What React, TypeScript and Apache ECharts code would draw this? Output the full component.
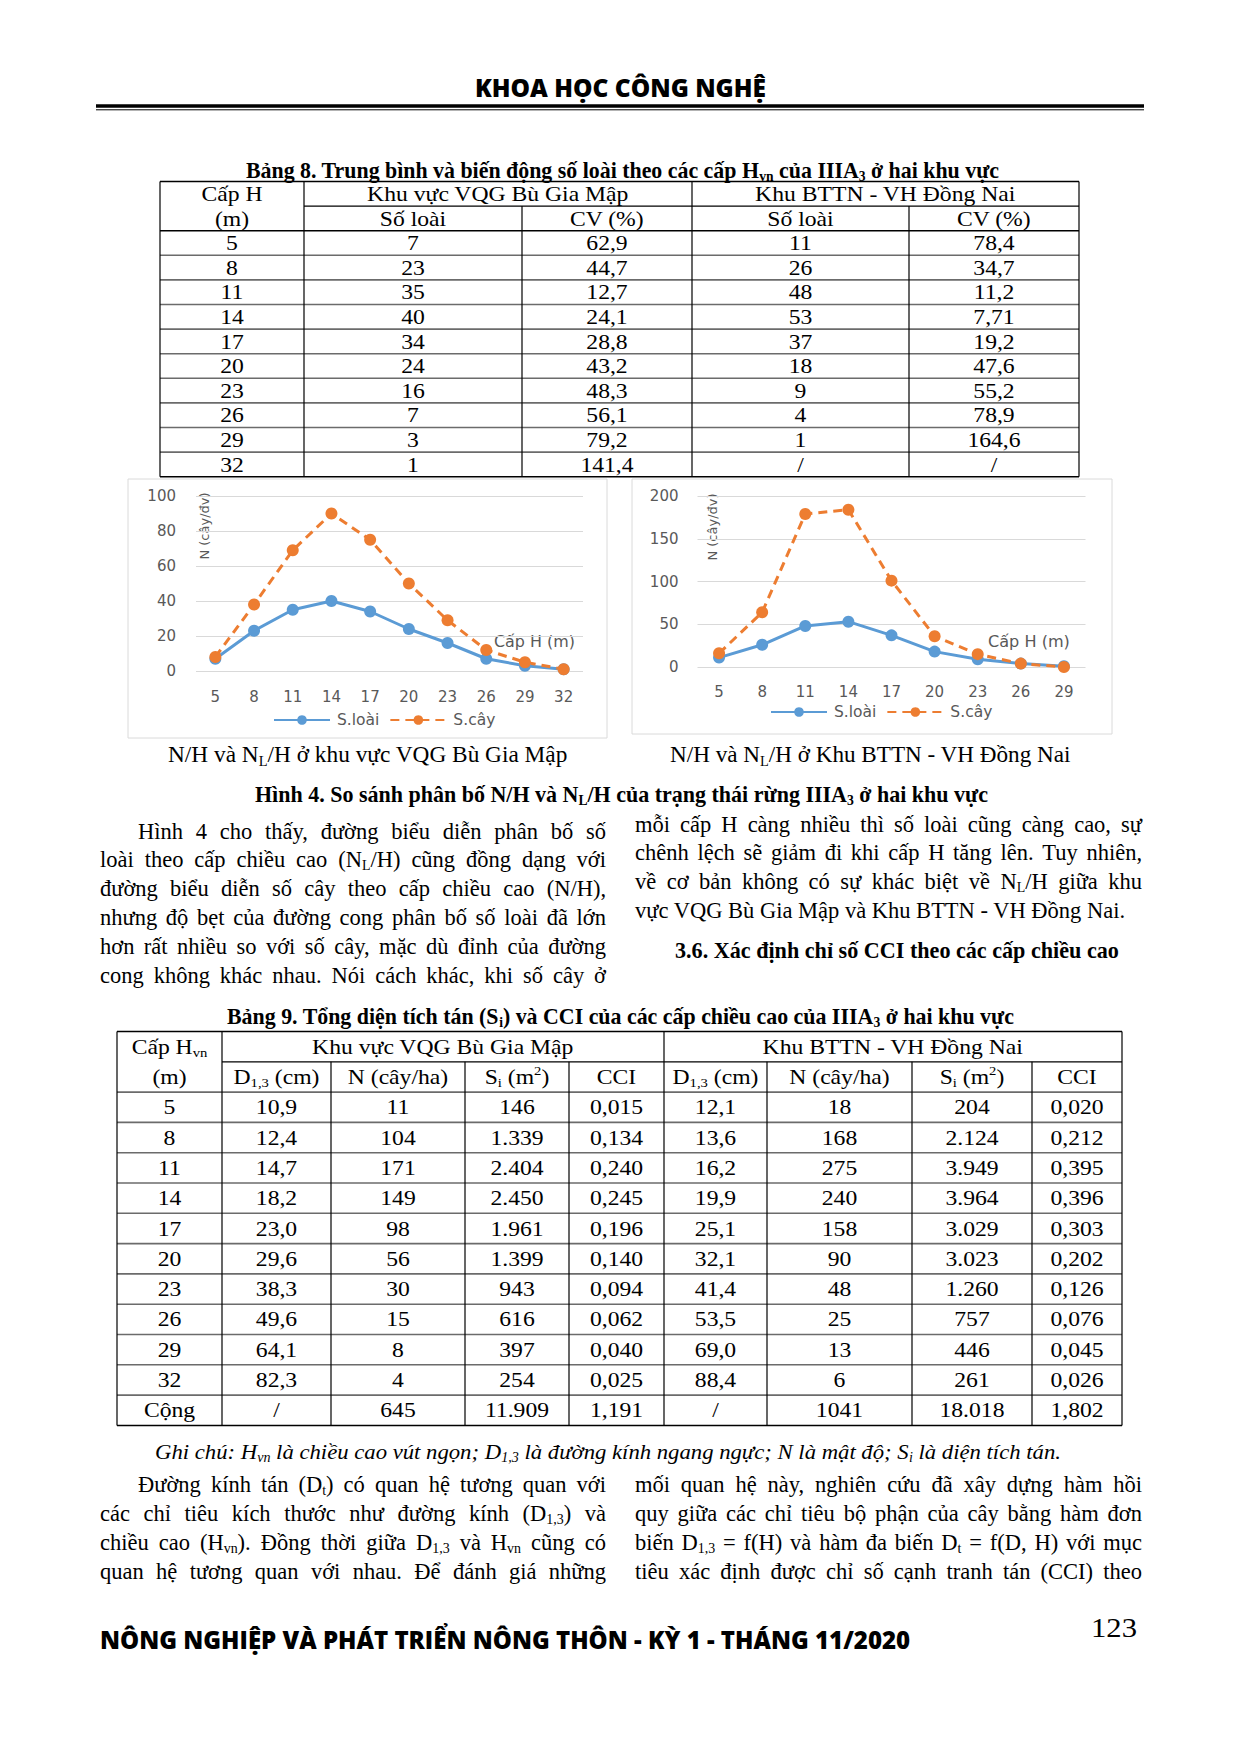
import React, { useEffect, useRef } from 'react';
import * as echarts from 'echarts';

// ---------- chart data ----------
const hClasses1 = ['5', '8', '11', '14', '17', '20', '23', '26', '29', '32'];
const sLoai1 = [7, 23, 35, 40, 34, 24, 16, 7, 3, 1];
const sCay1 = [8, 38, 69, 90, 75, 50, 29, 12, 5, 1];
const hClasses2 = ['5', '8', '11', '14', '17', '20', '23', '26', '29'];
const sLoai2 = [11, 26, 48, 53, 37, 18, 9, 4, 1];
const sCay2 = [16, 64, 179, 184, 101, 36, 15, 4, 0];
const legendNames = ['S.loài', 'S.cây'];

// ---------- table 8 ----------
const t8H = ['5', '8', '11', '14', '17', '20', '23', '26', '29', '32'];
const t8VqgSoLoai = ['7', '23', '35', '40', '34', '24', '16', '7', '3', '1'];
const t8VqgCV = ['62,9', '44,7', '12,7', '24,1', '28,8', '43,2', '48,3', '56,1', '79,2', '141,4'];
const t8DnSoLoai = ['11', '26', '48', '53', '37', '18', '9', '4', '1', '/'];
const t8DnCV = ['78,4', '34,7', '11,2', '7,71', '19,2', '47,6', '55,2', '78,9', '164,6', '/'];

// ---------- table 9 ----------
const t9H = ['5', '8', '11', '14', '17', '20', '23', '26', '29', '32', 'Cộng'];
const t9VqgD = ['10,9', '12,4', '14,7', '18,2', '23,0', '29,6', '38,3', '49,6', '64,1', '82,3', '/'];
const t9VqgN = ['11', '104', '171', '149', '98', '56', '30', '15', '8', '4', '645'];
const t9VqgS = ['146', '1.339', '2.404', '2.450', '1.961', '1.399', '943', '616', '397', '254', '11.909'];
const t9VqgCCI = ['0,015', '0,134', '0,240', '0,245', '0,196', '0,140', '0,094', '0,062', '0,040', '0,025', '1,191'];
const t9DnD = ['12,1', '13,6', '16,2', '19,9', '25,1', '32,1', '41,4', '53,5', '69,0', '88,4', '/'];
const t9DnN = ['18', '168', '275', '240', '158', '90', '48', '25', '13', '6', '1041'];
const t9DnS = ['204', '2.124', '3.949', '3.964', '3.029', '3.023', '1.260', '757', '446', '261', '18.018'];
const t9DnCCI = ['0,020', '0,212', '0,395', '0,396', '0,303', '0,202', '0,126', '0,076', '0,045', '0,026', '1,802'];

// ---------- texts ----------
const para1Left = [
  'Hình 4 cho thấy, đường biểu diễn phân bố số',
  'loài theo cấp chiều cao (N_{L}/H) cũng đồng dạng với',
  'đường biểu diễn số cây theo cấp chiều cao (N/H),',
  'nhưng độ bẹt của đường cong phân bố số loài đã lớn',
  'hơn rất nhiều so với số cây, mặc dù đỉnh của đường',
  'cong không khác nhau. Nói cách khác, khi số cây ở',
];
const para1Right = [
  'mỗi cấp H càng nhiều thì số loài cũng càng cao, sự',
  'chênh lệch sẽ giảm đi khi cấp H tăng lên. Tuy nhiên,',
  'về cơ bản không có sự khác biệt về N_{L}/H giữa khu',
  'vực VQG Bù Gia Mập và Khu BTTN - VH Đồng Nai.',
];
const para2Left = [
  'Đường kính tán (D_{t}) có quan hệ tương quan với',
  'các chỉ tiêu kích thước như đường kính (D_{1,3}) và',
  'chiều cao (H_{vn}). Đồng thời giữa D_{1,3} và H_{vn} cũng có',
  'quan hệ tương quan với nhau. Để đánh giá những',
];
const para2Right = [
  'mối quan hệ này, nghiên cứu đã xây dựng hàm hồi',
  'quy giữa các chỉ tiêu bộ phận của cây bằng hàm đơn',
  'biến D_{1,3} = f(H) và hàm đa biến D_{t} = f(D, H) với mục',
  'tiêu xác định được chỉ số cạnh tranh tán (CCI) theo',
];

const SERIF = "'Liberation Serif'";
const SANS = "'Open Sans'";
const CHART_FONT = 'DejaVu Sans';
const GRAY = '#595959';

type St = { size: number; weight?: string; italic?: boolean; family: string; color?: string; sx?: number };
type Run = { t: string; k: 'n' | 'sub' | 'sup' };

let _ctx: CanvasRenderingContext2D | null = null;
function measure(t: string, font: string) {
  if (!_ctx) _ctx = document.createElement('canvas').getContext('2d');
  _ctx!.font = font;
  return _ctx!.measureText(t).width;
}
function fontStr(st: St, size: number) {
  return `${st.italic ? 'italic' : 'normal'} ${st.weight || 'normal'} ${size}px ${st.family}`;
}
function parse(s: string): Run[] {
  const runs: Run[] = [];
  const re = /([_^])\{([^}]*)\}/g;
  let last = 0;
  let m: RegExpExecArray | null;
  while ((m = re.exec(s))) {
    if (m.index > last) runs.push({ t: s.slice(last, m.index), k: 'n' });
    runs.push({ t: m[2], k: m[1] === '_' ? 'sub' : 'sup' });
    last = re.lastIndex;
  }
  if (last < s.length) runs.push({ t: s.slice(last), k: 'n' });
  return runs;
}
function runFont(st: St, k: string) {
  const size = k === 'n' ? st.size : +(st.size * 0.62).toFixed(2);
  return fontStr(st, size);
}
function runsW(runs: Run[], st: St) {
  return runs.reduce((a, r) => a + measure(r.t, runFont(st, r.k)), 0);
}
function emit(out: any[], runs: Run[], x: number, y: number, st: St, sx: number) {
  let cx = x;
  for (const r of runs) {
    if (!r.t) continue;
    const f = runFont(st, r.k);
    const dy = r.k === 'sub' ? st.size * 0.27 : r.k === 'sup' ? -st.size * 0.27 : 0;
    out.push({
      type: 'text', x: cx, y: y + dy, scaleX: sx, silent: true,
      style: { text: r.t, font: f, fill: st.color || '#000', textAlign: 'left', textVerticalAlign: 'middle' },
    });
    cx += measure(r.t, f) * sx;
  }
  return cx;
}
function textAt(out: any[], s: string, x: number, y: number, st: St, align = 'center', fitW?: number) {
  const runs = parse(s);
  const w = runsW(runs, st);
  const sx = fitW ? fitW / w : st.sx ?? 1;
  const tw = w * sx;
  const x0 = align === 'center' ? x - tw / 2 : align === 'right' ? x - tw : x;
  emit(out, runs, x0, y, st, sx);
}
function justify(out: any[], s: string, x0: number, x1: number, y: number, st: St) {
  const words = s.split(' ').map(parse);
  const ws = words.map((r) => runsW(r, st));
  const sum = ws.reduce((a, b) => a + b, 0);
  const spaceW = measure(' ', fontStr(st, st.size));
  let sx = st.sx ?? 1;
  const minTotal = sum + spaceW * (words.length - 1) * 0.8;
  if (minTotal * sx > x1 - x0) sx = (x1 - x0) / minTotal;
  const gap = (x1 - x0 - sum * sx) / (words.length - 1);
  let cx = x0;
  words.forEach((r, i) => {
    emit(out, r, cx, y, st, sx);
    cx += ws[i] * sx + gap;
  });
}
function line(out: any[], x1: number, y1: number, x2: number, y2: number, color = '#000', w = 1) {
  out.push({ type: 'line', silent: true, shape: { x1, y1, x2, y2 }, style: { stroke: color, lineWidth: w } });
}

function buildGraphics() {
  const out: any[] = [];
  const body: St = { size: 22.5, family: SERIF };
  const bold: St = { size: 22.5, family: SERIF, weight: 'bold' };
  const cell: St = { size: 21.5, family: SERIF, sx: 1.1 };

  // header
  textAt(out, 'KHOA HỌC CÔNG NGHỆ', 620.5, 87, { size: 25, family: SANS, weight: '800' }, 'center', 291);
  out.push({ type: 'rect', silent: true, shape: { x: 96, y: 104.3, width: 1048, height: 3.4 }, style: { fill: '#000' } });
  line(out, 96, 109.8, 1144, 109.8, '#000', 1);

  // table 8
  textAt(out, 'Bảng 8. Trung bình và biến động số loài theo các cấp H_{vn} của IIIA_{3} ở hai khu vực', 622.5, 170, bold, 'center', 753);
  const X8 = [160, 304, 522, 692, 909, 1079];
  const Y8 = 181.5, R8 = 24.6;
  const B8 = Y8 + 12 * R8;
  line(out, X8[0], Y8, X8[5], Y8, '#000', 1.5);
  line(out, X8[1], Y8 + R8, X8[5], Y8 + R8, '#000', 1.2);
  line(out, X8[0], Y8 + 2 * R8, X8[5], Y8 + 2 * R8, '#000', 1.5);
  for (let i = 3; i < 12; i++) line(out, X8[0], Y8 + i * R8, X8[5], Y8 + i * R8, '#6b6b6b', 1.6);
  line(out, X8[0], B8, X8[5], B8, '#000', 1.5);
  [0, 1, 3, 5].forEach((c) => line(out, X8[c], Y8, X8[c], B8, '#000', 1.2));
  [2, 4].forEach((c) => line(out, X8[c], Y8 + R8, X8[c], B8, '#000', 1.2));
  const c8 = (c: number) => (X8[c] + X8[c + 1]) / 2;
  textAt(out, 'Cấp H', c8(0), Y8 + R8 / 2, cell);
  textAt(out, 'Khu vực VQG Bù Gia Mập', (X8[1] + X8[3]) / 2, Y8 + R8 / 2, cell);
  textAt(out, 'Khu BTTN - VH Đồng Nai', (X8[3] + X8[5]) / 2, Y8 + R8 / 2, cell);
  ['(m)', 'Số loài', 'CV (%)', 'Số loài', 'CV (%)'].forEach((t, c) => textAt(out, t, c8(c), Y8 + 1.5 * R8, cell));
  const cols8 = [t8H, t8VqgSoLoai, t8VqgCV, t8DnSoLoai, t8DnCV];
  t8H.forEach((_, r) => {
    cols8.forEach((col, c) => textAt(out, col[r], c8(c), Y8 + (2.5 + r) * R8, cell));
  });

  // chart frames + chart texts
  out.push({ type: 'rect', silent: true, shape: { x: 128, y: 479, width: 479, height: 259 }, style: { fill: 'none', stroke: '#dadada', lineWidth: 1 } });
  out.push({ type: 'rect', silent: true, shape: { x: 632, y: 479, width: 480, height: 255 }, style: { fill: 'none', stroke: '#dadada', lineWidth: 1 } });
  const ch: St = { size: 15, family: `'${CHART_FONT}'`, color: GRAY };
  textAt(out, 'Cấp H (m)', 534.5, 642, ch, 'center', 81);
  textAt(out, 'Cấp H (m)', 1029, 642, ch, 'center', 82);
  [[204, 526], [712, 527]].forEach(([x, y]) => {
    out.push({
      type: 'text', x, y, rotation: Math.PI / 2, silent: true,
      style: { text: 'N (cây/đv)', font: `normal normal 13px '${CHART_FONT}'`, fill: GRAY, textAlign: 'center', textVerticalAlign: 'middle' },
    });
  });

  // captions
  textAt(out, 'N/H và N_{L}/H ở khu vực VQG Bù Gia Mập', 368, 755, body, 'center', 400);
  textAt(out, 'N/H và N_{L}/H ở Khu BTTN - VH Đồng Nai', 870.5, 755, body, 'center', 401);
  textAt(out, 'Hình 4. So sánh phân bố N/H và N_{L}/H của trạng thái rừng IIIA_{3} ở hai khu vực', 621.5, 794, bold, 'center', 733);

  // paragraph 1
  para1Left.forEach((s, i) => justify(out, s, i === 0 ? 138 : 100, 606, 831 + 28.8 * i, body));
  para1Right.forEach((s, i) => {
    if (i === para1Right.length - 1) textAt(out, s, 635, 824 + 28.8 * i, body, 'left');
    else justify(out, s, 635, 1142, 824 + 28.8 * i, body);
  });
  textAt(out, '3.6. Xác định chỉ số CCI theo các cấp chiều cao', 897, 950, bold, 'center', 444);

  // table 9
  textAt(out, 'Bảng 9. Tổng diện tích tán (S_{i}) và CCI của các cấp chiều cao của IIIA_{3} ở hai khu vực', 620.5, 1016, bold, 'center', 787);
  const X9 = [117, 222, 331, 465, 569, 664, 767, 912, 1032, 1122];
  const Y9 = 1031.5, R9 = 30.3;
  const B9 = Y9 + 13 * R9;
  line(out, X9[0], Y9, X9[9], Y9, '#000', 1.5);
  line(out, X9[1], Y9 + R9, X9[9], Y9 + R9, '#000', 1.2);
  for (let i = 2; i < 13; i++) line(out, X9[0], Y9 + i * R9, X9[9], Y9 + i * R9, '#6b6b6b', 1.6);
  line(out, X9[0], B9, X9[9], B9, '#000', 1.5);
  [0, 1, 5, 9].forEach((c) => line(out, X9[c], Y9, X9[c], B9, '#000', 1.2));
  [2, 3, 4, 6, 7, 8].forEach((c) => line(out, X9[c], Y9 + R9, X9[c], B9, '#000', 1.2));
  const c9 = (c: number) => (X9[c] + X9[c + 1]) / 2;
  textAt(out, 'Cấp H_{vn}', c9(0), Y9 + R9 / 2, cell);
  textAt(out, 'Khu vực VQG Bù Gia Mập', (X9[1] + X9[5]) / 2, Y9 + R9 / 2, cell);
  textAt(out, 'Khu BTTN - VH Đồng Nai', (X9[5] + X9[9]) / 2, Y9 + R9 / 2, cell);
  ['(m)', 'D_{1,3} (cm)', 'N (cây/ha)', 'S_{i} (m^{2})', 'CCI', 'D_{1,3} (cm)', 'N (cây/ha)', 'S_{i} (m^{2})', 'CCI'].forEach((t, c) =>
    textAt(out, t, c9(c), Y9 + 1.5 * R9, cell)
  );
  const cols9 = [t9H, t9VqgD, t9VqgN, t9VqgS, t9VqgCCI, t9DnD, t9DnN, t9DnS, t9DnCCI];
  t9H.forEach((_, r) => {
    cols9.forEach((col, c) => textAt(out, col[r], c9(c), Y9 + (2.5 + r) * R9, cell));
  });

  // note
  textAt(out, 'Ghi chú: H_{vn} là chiều cao vút ngọn; D_{1,3} là đường kính ngang ngực; N là mật độ; S_{i} là diện tích tán.', 155, 1452, { size: 22, family: SERIF, italic: true }, 'left', 906);

  // paragraph 2
  para2Left.forEach((s, i) => justify(out, s, i === 0 ? 138 : 100, 606, 1484 + 29 * i, body));
  para2Right.forEach((s, i) => justify(out, s, 635, 1142, 1484 + 29 * i, body));

  // footer
  textAt(out, 'NÔNG NGHIỆP VÀ PHÁT TRIỂN NÔNG THÔN - KỲ 1 - THÁNG 11/2020', 100, 1639, { size: 25, family: SANS, weight: '800' }, 'left', 811);
  textAt(out, '123', 1114, 1628, { size: 27, family: SERIF }, 'center', 46);
  return out;
}

function axisX(gridIndex: number, data: string[], margin: number) {
  return {
    gridIndex, type: 'category', data, boundaryGap: true,
    axisLine: { show: false }, axisTick: { show: false },
    axisLabel: { color: GRAY, fontSize: 15, fontFamily: CHART_FONT, margin },
    splitLine: { show: false },
  };
}
function axisY(gridIndex: number, max: number, interval: number, margin: number) {
  return {
    gridIndex, type: 'value', min: 0, max, interval,
    axisLine: { show: false }, axisTick: { show: false },
    axisLabel: { color: GRAY, fontSize: 15, fontFamily: CHART_FONT, margin },
    splitLine: { show: true, lineStyle: { color: '#d9d9d9', width: 1 } },
  };
}
function lineSeries(name: string, data: number[], idx: number, color: string, dashed: boolean) {
  return {
    type: 'line', name, data, xAxisIndex: idx, yAxisIndex: idx,
    symbol: 'circle', symbolSize: 12, showSymbol: true,
    lineStyle: { color, width: 3, type: dashed ? [9, 6] : 'solid' },
    itemStyle: { color },
    z: 3,
  };
}

export default function App() {
  const ref = useRef<HTMLDivElement>(null);
  useEffect(() => {
    if (!ref.current) return;
    const chart = echarts.init(ref.current, undefined, { renderer: 'svg' });
    const legendCommon = {
      data: legendNames, orient: 'horizontal', itemWidth: 56, itemHeight: 12, itemGap: 10, padding: 0,
      selectedMode: false, textStyle: { color: GRAY, fontSize: 15.5, fontFamily: CHART_FONT, padding: [0, 0, 0, 2] },
    };
    chart.setOption({
      animation: false,
      backgroundColor: '#ffffff',
      grid: [
        { left: 196, top: 496, width: 387, height: 175 },
        { left: 697.5, top: 496, width: 388, height: 171 },
      ],
      xAxis: [axisX(0, hClasses1, 18), axisX(1, hClasses2, 17)],
      yAxis: [axisY(0, 100, 20, 20), axisY(1, 200, 50, 19)],
      legend: [
        { ...legendCommon, left: 273, top: 712 },
        { ...legendCommon, left: 770, top: 704 },
      ],
      series: [
        lineSeries('S.loài', sLoai1, 0, '#5B9BD5', false),
        lineSeries('S.cây', sCay1, 0, '#ED7D31', true),
        lineSeries('S.loài', sLoai2, 1, '#5B9BD5', false),
        lineSeries('S.cây', sCay2, 1, '#ED7D31', true),
      ],
      graphic: { elements: buildGraphics() },
    });
    return () => chart.dispose();
  }, []);
  return (
    <div
      ref={ref}
      style={{ position: 'absolute', left: 0, top: 0, width: 1239, height: 1753, background: '#fff' }}
    />
  );
}
